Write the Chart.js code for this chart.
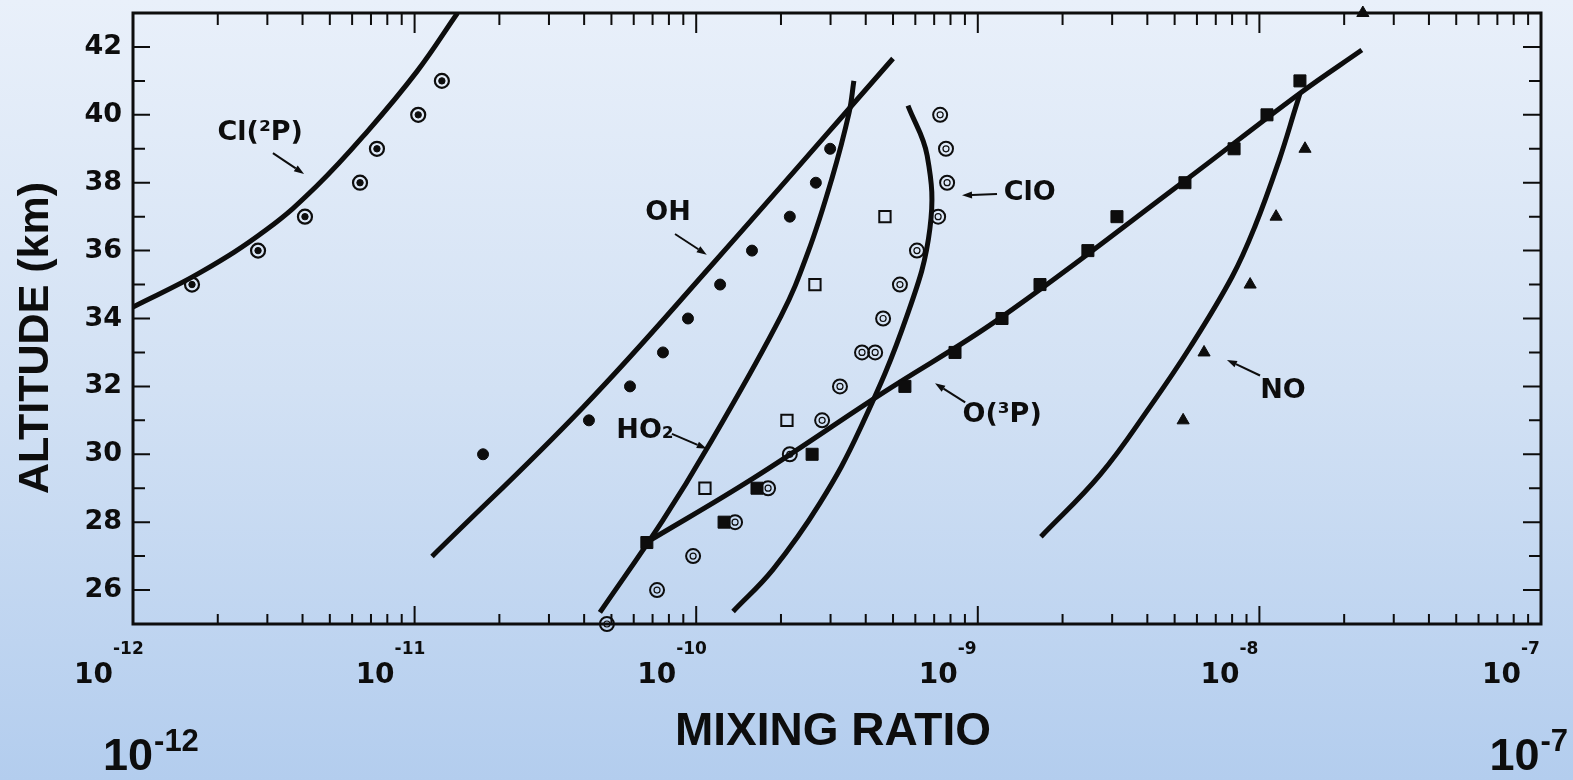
<!DOCTYPE html>
<html><head><meta charset="utf-8">
<script src="https://cdn.jsdelivr.net/npm/chart.js@4.4.1/dist/chart.umd.min.js"></script>
<style>
html,body{margin:0;padding:0;}
html{background:linear-gradient(to bottom,#e9f0fa 0%,#d2e1f4 50%,#b3cdee 100%);}
body{width:1573px;height:780px;overflow:hidden;}
canvas{display:block;}
</style></head><body>
<canvas id="c" width="1573" height="780"></canvas>
<script>
// ---- tick labels ----
const decades = [-12, -11, -10, -9, -8, -7];
const yLabels = [26, 28, 30, 32, 34, 36, 38, 40, 42];

// ---- Cl(2P) ----
const clCurveX = [1.0e-12, 1.73e-12, 2.99e-12, 4.5e-12, 6.78e-12, 1.02e-11, 1.42e-11];
const clCurveAlt = [34.34, 35.35, 36.63, 37.91, 39.5, 41.28, 43.0];
const clObsX = [1.62e-12, 2.78e-12, 4.08e-12, 6.4e-12, 7.35e-12, 1.03e-11, 1.25e-11];
const clObsAlt = [35, 36, 37, 38, 39, 40, 41];

// ---- OH ----
const ohCurveX = [1.153e-11, 3.96e-11, 1.148e-10, 5.0e-10];
const ohCurveAlt = [26.99, 31.38, 35.62, 41.66];
const ohObsX = [1.75e-11, 4.16e-11, 5.82e-11, 7.62e-11, 9.35e-11, 1.216e-10, 1.578e-10, 2.15e-10, 2.66e-10, 2.99e-10];
const ohObsAlt = [30, 31, 32, 33, 34, 35, 36, 37, 38, 39];

// ---- HO2 ----
const ho2CurveX = [4.55e-11, 7.62e-11, 1.101e-10, 2.0e-10, 2.49e-10, 3.03e-10, 3.49e-10, 3.63e-10];
const ho2CurveAlt = [25.34, 28.06, 30.22, 34.07, 35.93, 38.11, 40.06, 41.0];
const ho2ObsX = [1.074e-10, 2.10e-10, 2.64e-10, 4.68e-10];
const ho2ObsAlt = [29, 31, 35, 37];

// ---- ClO ----
const cloCurveX = [1.352e-10, 1.875e-10, 2.75e-10, 3.82e-10, 5.61e-10, 6.76e-10, 6.61e-10, 5.65e-10];
const cloCurveAlt = [25.37, 26.61, 28.56, 30.75, 34.09, 36.65, 38.8, 40.27];
const cloObsX = [4.82e-11, 7.26e-11, 9.75e-11, 1.374e-10, 1.80e-10, 2.15e-10, 2.80e-10, 3.24e-10, 3.88e-10, 4.32e-10, 4.61e-10, 5.29e-10, 6.08e-10, 7.23e-10, 7.78e-10, 7.71e-10, 7.35e-10];
const cloObsAlt = [25, 26, 27, 28, 29, 30, 31, 32, 33, 33, 34, 35, 36, 37, 38, 39, 40];

// ---- O(3P) ----
const o3pCurveX = [6.68e-11, 1.592e-10, 4.60e-10, 1.20e-9, 5.36e-9, 1.39e-8, 2.31e-8];
const o3pCurveAlt = [27.41, 29.29, 31.81, 34.01, 38.02, 40.63, 41.91];
const o3pObsX = [6.68e-11, 1.256e-10, 1.644e-10, 2.58e-10, 5.51e-10, 8.30e-10, 1.219e-9, 1.663e-9, 2.46e-9, 3.12e-9, 5.44e-9, 8.13e-9, 1.064e-8, 1.393e-8];
const o3pObsAlt = [27.4, 28, 29, 30, 32, 33, 34, 35, 36, 37, 38, 39, 40, 41];

// ---- NO ----
const noCurveX = [1.675e-9, 2.72e-9, 4.08e-9, 5.68e-9, 8.0e-9, 9.64e-9, 1.175e-8, 1.349e-8, 1.393e-8];
const noCurveAlt = [27.57, 29.40, 31.39, 33.16, 35.23, 36.71, 38.66, 40.25, 40.63];
const noObsX = [5.36e-9, 6.36e-9, 9.27e-9, 1.146e-8, 1.452e-8, 2.33e-8];
const noObsAlt = [31, 33, 35, 37, 39, 43];

// ---- curve labels and arrows (data coordinates) ----
const labelText = ['Cl(\u00B2P)', 'OH', 'HO\u2082', 'ClO', 'O(\u00B3P)', 'NO'];
const labelX = [2.83e-12, 7.94e-11, 6.58e-11, 1.53e-9, 1.22e-9, 1.213e-8];
const labelAlt = [39.49, 37.14, 30.71, 37.73, 31.19, 31.88];
const arrowFromX = [3.14e-12, 8.41e-11, 8.2e-11, 1.17e-9, 9.02e-10, 1.005e-8];
const arrowFromAlt = [38.87, 36.49, 30.6, 37.67, 31.53, 32.32];
const arrowToX = [4.05e-12, 1.09e-10, 1.09e-10, 8.79e-10, 7.05e-10, 7.67e-9];
const arrowToAlt = [38.26, 35.88, 30.16, 37.63, 32.09, 32.78];

const pts = (xs, ys) => xs.map((x, i) => ({x: x, y: ys[i]}));
const INK = '#0d0d0d';

function curve(xs, ys) {
  return {data: pts(xs, ys), showLine: true, borderColor: INK, borderWidth: 5,
    pointRadius: 0, tension: 0.4, fill: false, order: 2};
}
function marks(xs, ys, style) {
  return Object.assign({data: pts(xs, ys), showLine: false, order: 1, clip: false,
    pointBorderColor: INK, pointBackgroundColor: INK, pointBorderWidth: 1}, style);
}

const decor = {
  id: 'decor',
  afterDraw(chart) {
    const ctx = chart.ctx, a = chart.chartArea, xs = chart.scales.x, ys = chart.scales.y;
    ctx.save();
    ctx.strokeStyle = INK; ctx.fillStyle = INK;
    ctx.lineWidth = 3;
    ctx.strokeRect(a.left, a.top, a.right - a.left, a.bottom - a.top);
    // inward ticks
    ctx.lineWidth = 2;
    ctx.beginPath();
    decades.forEach((e, i) => {
      const last = i === decades.length - 1;
      for (let m = 1; m <= (last ? 1 : 9); m++) {
        const px = xs.getPixelForValue(m * Math.pow(10, e));
        const major = m === 1;
        ctx.moveTo(px, a.bottom); ctx.lineTo(px, a.bottom - (major ? 18 : 10));
        ctx.moveTo(px, a.top); ctx.lineTo(px, a.top + (major ? 20 : 12));
      }
    });
    ys.ticks.forEach(t => {
      const py = ys.getPixelForValue(t.value);
      const major = yLabels.includes(t.value);
      ctx.moveTo(a.left, py); ctx.lineTo(a.left + (major ? 17 : 12), py);
      ctx.moveTo(a.right, py); ctx.lineTo(a.right - (major ? 18 : 12), py);
    });
    ctx.stroke();
    // x tick labels 10^n
    ctx.textBaseline = 'alphabetic';
    decades.forEach(e => {
      const px = xs.getPixelForValue(Math.pow(10, e));
      ctx.font = 'bold 28px "DejaVu Sans"'; ctx.textAlign = 'right';
      ctx.fillText('10', px - 20, a.bottom + 59);
      ctx.font = 'bold 17px "DejaVu Sans"'; ctx.textAlign = 'left';
      ctx.fillText(String(e), px - 20, a.bottom + 30);
    });
    // axis titles
    ctx.textAlign = 'center';
    ctx.font = 'bold 46px "Liberation Sans", Arial, sans-serif';
    ctx.fillText('MIXING RATIO', (a.left + a.right) / 2 - 4, 745);
    ctx.save();
    ctx.translate(48, 338); ctx.rotate(-Math.PI / 2);
    ctx.font = 'bold 43px "Liberation Sans", Arial, sans-serif';
    ctx.fillText('ALTITUDE (km)', 0, 0);
    ctx.restore();
    // corner range labels
    const big = 'bold 45px "Liberation Sans Narrow", "Liberation Sans", sans-serif';
    const sup = 'bold 31px "Liberation Sans Narrow", "Liberation Sans", sans-serif';
    ctx.textAlign = 'left';
    ctx.font = big; ctx.fillText('10', 103, 770);
    const w10 = ctx.measureText('10').width;
    ctx.font = sup; ctx.fillText(String(decades[0]), 103 + w10 + 1, 751);
    const lastExp = String(decades[decades.length - 1]);
    const we = ctx.measureText(lastExp).width;
    ctx.textAlign = 'right';
    ctx.fillText(lastExp, 1568, 751);
    ctx.font = big; ctx.fillText('10', 1568 - we - 1, 770);
    // curve labels
    ctx.font = 'bold 27px "DejaVu Sans"'; ctx.textAlign = 'center'; ctx.textBaseline = 'middle';
    labelText.forEach((t, i) => {
      ctx.fillText(t, xs.getPixelForValue(labelX[i]), ys.getPixelForValue(labelAlt[i]) + 1);
    });
    // arrows
    ctx.lineWidth = 2;
    labelText.forEach((t, i) => {
      const x1 = xs.getPixelForValue(arrowFromX[i]), y1 = ys.getPixelForValue(arrowFromAlt[i]);
      const x2 = xs.getPixelForValue(arrowToX[i]), y2 = ys.getPixelForValue(arrowToAlt[i]);
      const ang = Math.atan2(y2 - y1, x2 - x1);
      const hl = 10, hw = 3.5;
      const bx = x2 - hl * Math.cos(ang), by = y2 - hl * Math.sin(ang);
      ctx.beginPath(); ctx.moveTo(x1, y1); ctx.lineTo(bx, by); ctx.stroke();
      ctx.beginPath(); ctx.moveTo(x2, y2);
      ctx.lineTo(bx + hw * Math.sin(ang), by - hw * Math.cos(ang));
      ctx.lineTo(bx - hw * Math.sin(ang), by + hw * Math.cos(ang));
      ctx.closePath(); ctx.fill();
    });
    ctx.restore();
  }
};

new Chart(document.getElementById('c'), {
  type: 'scatter',
  data: {
    datasets: [
      curve(clCurveX, clCurveAlt),
      curve(ohCurveX, ohCurveAlt),
      curve(ho2CurveX, ho2CurveAlt),
      curve(cloCurveX, cloCurveAlt),
      curve(o3pCurveX, o3pCurveAlt),
      curve(noCurveX, noCurveAlt),
      marks(clObsX, clObsAlt, {pointStyle: 'circle', pointRadius: 7, pointBackgroundColor: 'rgba(0,0,0,0)', pointBorderWidth: 2.2}),
      marks(clObsX, clObsAlt, {pointStyle: 'circle', pointRadius: 3.2}),
      marks(ohObsX, ohObsAlt, {pointStyle: 'circle', pointRadius: 5.5}),
      marks(ho2ObsX, ho2ObsAlt, {pointStyle: 'rect', pointRadius: 8, pointBackgroundColor: 'rgba(0,0,0,0)', pointBorderWidth: 2}),
      marks(cloObsX, cloObsAlt, {pointStyle: 'circle', pointRadius: 7, pointBackgroundColor: 'rgba(0,0,0,0)', pointBorderWidth: 2}),
      marks(cloObsX, cloObsAlt, {pointStyle: 'circle', pointRadius: 3, pointBackgroundColor: 'rgba(0,0,0,0)', pointBorderWidth: 1.2}),
      marks(o3pObsX, o3pObsAlt, {pointStyle: 'rect', pointRadius: 8.5}),
      marks(noObsX, noObsAlt, {pointStyle: 'triangle', pointRadius: 7})
    ]
  },
  options: {
    responsive: false,
    animation: false,
    layout: {padding: {top: 13, right: 32, left: 0, bottom: 0}},
    plugins: {legend: {display: false}, tooltip: {enabled: false}},
    scales: {
      x: {
        type: 'logarithmic', min: 1e-12, max: 1e-7, position: 'bottom',
        ticks: {display: false}, grid: {display: false, drawTicks: false}, border: {display: false},
        afterFit(s) { s.height = 156; s.paddingLeft = 0; s.paddingRight = 0; }
      },
      y: {
        type: 'linear', min: 25, max: 43, position: 'left',
        ticks: {stepSize: 1, autoSkip: false, padding: 11, color: INK,
          font: {family: 'DejaVu Sans', size: 27, weight: 'bold'},
          callback: v => yLabels.includes(v) ? String(v) : ''},
        grid: {display: false, drawTicks: false}, border: {display: false},
        afterFit(s) { s.width = 133; s.paddingTop = 0; s.paddingBottom = 0; }
      }
    }
  },
  plugins: [decor]
});
</script>
</body></html>
